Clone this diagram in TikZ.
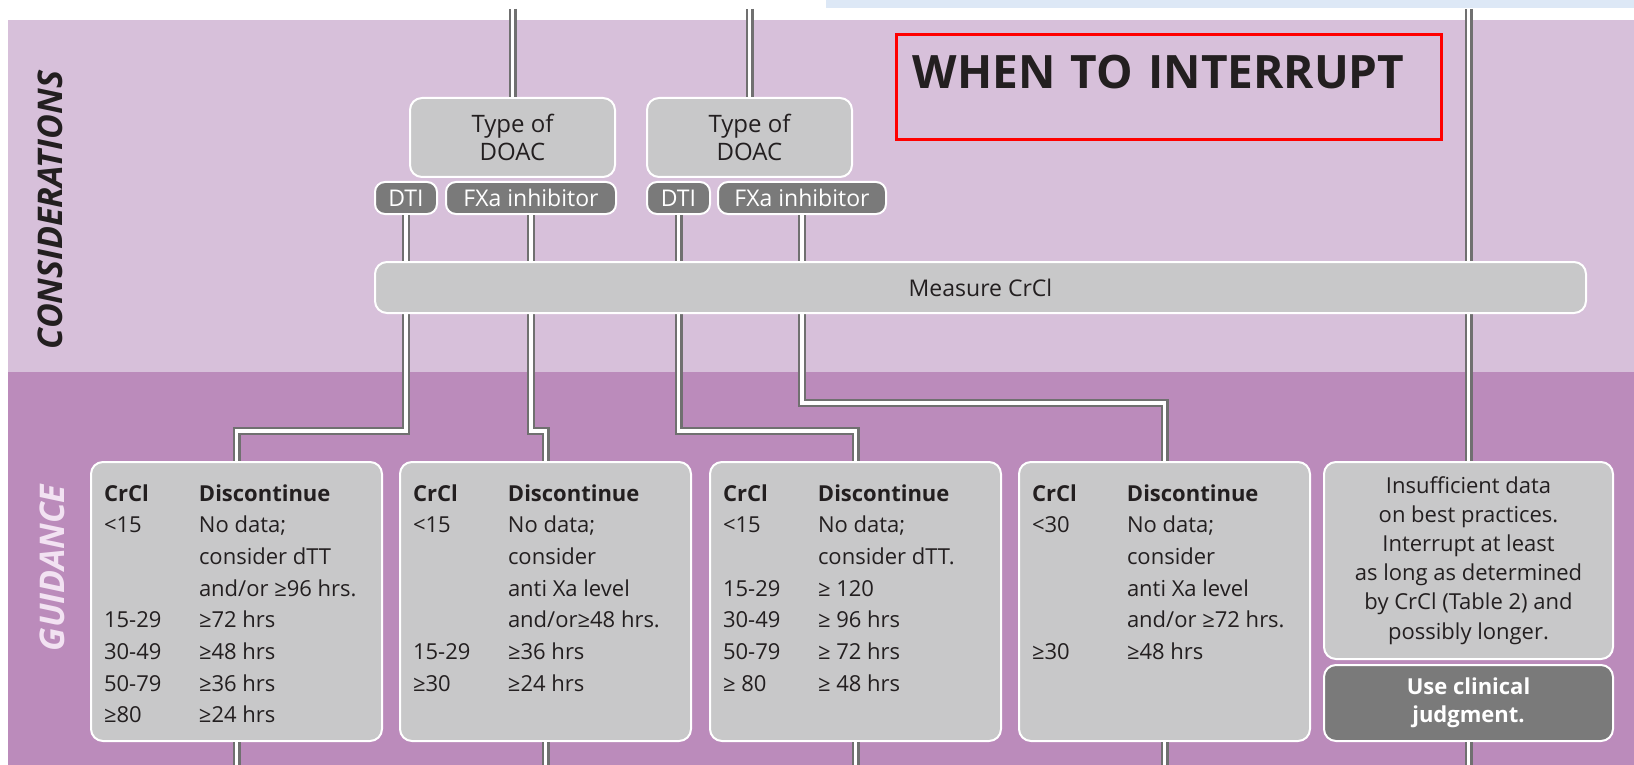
\documentclass[tikz,border=0pt]{standalone}
\usepackage{fontspec}
\setmainfont{Open Sans}
\usepackage{tikz}
\usetikzlibrary{positioning}

\definecolor{consbg}{RGB}{215,192,218}
\definecolor{guidbg}{RGB}{187,139,187}
\definecolor{bluestrip}{RGB}{221,232,246}
\definecolor{boxgrey}{RGB}{200,200,201}
\definecolor{pillgrey}{RGB}{122,122,122}
\definecolor{pipegrey}{RGB}{112,112,112}
\definecolor{textdark}{RGB}{35,31,32}
\definecolor{guidtext}{RGB}{242,226,242}

\newcommand{\crow}[2]{\makebox[47.5pt][l]{#1}#2\par}
\newcommand{\chead}{\crow{\rule{0pt}{19.5pt}\textbf{CrCl}}{\textbf{Discontinue}}}
\newcommand{\gtab}[1]{\parbox[t][139.5pt][t]{145.5pt}{\leftskip=6.5pt\chead #1}}

\begin{document}
\begin{tikzpicture}[x=0.5pt,y=-0.5pt]

    \tikzstyle{pipe} = [draw=pipegrey, double=white, double distance=1.9pt, line width=1.05pt]
    \tikzstyle{typebox} = [rectangle, rounded corners=6pt, minimum width=102.5pt, minimum height=39.5pt, align=center, draw=white, line width=1pt, fill=boxgrey, text=textdark, font=\fontsize{12}{14}\selectfont]
    \tikzstyle{pill} = [rectangle, rounded corners=5pt, minimum height=16pt, inner sep=0pt, draw=white, line width=1pt, fill=pillgrey, text=white, font=\fontsize{11.5}{13}\selectfont]
    \tikzstyle{measure} = [rectangle, rounded corners=6pt, minimum width=605.5pt, minimum height=25.5pt, draw=white, line width=1pt, fill=boxgrey, text=textdark, font=\fontsize{11.5}{13}\selectfont]
    \tikzstyle{gbox} = [rectangle, rounded corners=6pt, inner sep=0pt, draw=white, line width=1pt, fill=boxgrey, text=textdark, font=\fontsize{11}{15.85}\selectfont]
    \tikzstyle{band} = [rotate=90, font=\fontsize{17}{19}\selectfont\bfseries\itshape]
    \tikzstyle{titlebox} = [draw=red, line width=1.6pt, anchor=north west, inner xsep=8pt, inner ysep=0pt, text width=256.5pt, text height=27pt, text depth=25.5pt, align=left, text=textdark, font=\fontsize{23}{26}\selectfont\bfseries]

    \fill[white] (0,0) rectangle (1634,765);
    \fill[bluestrip] (826,0) rectangle (1634,8);
    \fill[consbg] (8,20) rectangle (1634,372);
    \fill[guidbg] (8,372) rectangle (1634,765);
    \useasboundingbox (0,0) rectangle (1634,765);

    \coordinate (topedge) at (0,9);
    \coordinate (botedge) at (0,765);
    \coordinate (jogA) at (0,431);
    \coordinate (jogB) at (0,403);

    \node (cons)[band, text=textdark] at (50,210) {CONSIDERATIONS};
    \node (guid)[band, text=guidtext] at (52,568) {GUIDANCE};
    \node (title)[titlebox] at (895,33) {WHEN TO INTERRUPT};

    \node (type1)[typebox] at (512.5,137.5) {Type of\\DOAC};
    \node (type2)[typebox] at (749.5,137.5) {Type of\\DOAC};
    \node (dti1)[pill, minimum width=31pt, below=1.5pt of type1.south west, anchor=north west, xshift=-17.5pt] {DTI};
    \node (fxa1)[pill, minimum width=85pt, right=3.5pt of dti1] {FXa inhibitor};
    \node (dti2)[pill, minimum width=31.5pt, below=1.5pt of type2.south west, anchor=north west] {DTI};
    \node (fxa2)[pill, minimum width=84pt, right=3pt of dti2] {FXa inhibitor};

    \node (g1)[gbox, anchor=north west] at (90,461) {\gtab{%
        \crow{<15}{No data;}\crow{}{consider dTT}\crow{}{and/or ≥96 hrs.}%
        \crow{15-29}{≥72 hrs}\crow{30-49}{≥48 hrs}\crow{50-79}{≥36 hrs}\crow{≥80}{≥24 hrs}}};
    \node (g2)[gbox, right=8pt of g1.north east, anchor=north west] {\gtab{%
        \crow{<15}{No data;}\crow{}{consider}\crow{}{anti Xa level}\crow{}{and/or≥48 hrs.}%
        \crow{15-29}{≥36 hrs}\crow{≥30}{≥24 hrs}}};
    \node (g3)[gbox, right=8.5pt of g2.north east, anchor=north west] {\gtab{%
        \crow{<15}{No data;}\crow{}{consider dTT.}%
        \crow{15-29}{≥ 120}\crow{30-49}{≥ 96 hrs}\crow{50-79}{≥ 72 hrs}\crow{≥ 80}{≥ 48 hrs}}};
    \node (g4)[gbox, right=8pt of g3.north east, anchor=north west] {\gtab{%
        \crow{<30}{No data;}\crow{}{consider}\crow{}{anti Xa level}\crow{}{and/or ≥72 hrs.}%
        \crow{≥30}{≥48 hrs}}};
    \node (g5)[gbox, right=6pt of g4.north east, anchor=north west, font=\fontsize{11}{14.6}\selectfont] {\parbox[t][98.5pt][t]{144.5pt}{\centering
        \rule{0pt}{15.5pt}Insufficient data\\on best practices.\\Interrupt at least\\as long as determined\\by CrCl (Table 2) and\\possibly longer.}};
    \node (judge)[gbox, below=2pt of g5, minimum width=144.5pt, minimum height=38pt, align=center, fill=pillgrey, text=white, font=\fontsize{11}{14}\selectfont\bfseries] {Use clinical\\judgment.};

    \draw [pipe] (type1.north |- topedge) -- (type1.north);
    \draw [pipe] (type2.north |- topedge) -- (type2.north);
    \draw [pipe] (g5.north |- topedge) -- (g5.north);
    \draw [pipe] (dti1.south) -- (dti1.south |- jogA) -| (g1.north);
    \draw [pipe] (fxa1.south) -- (fxa1.south |- jogA) -| (g2.north);
    \draw [pipe] (dti2.south) -- (dti2.south |- jogA) -| (g3.north);
    \draw [pipe] (fxa2.south) -- (fxa2.south |- jogB) -| (g4.north);
    \draw [pipe] (g1.south) -- (g1.south |- botedge);
    \draw [pipe] (g2.south) -- (g2.south |- botedge);
    \draw [pipe] (g3.south) -- (g3.south |- botedge);
    \draw [pipe] (g4.south) -- (g4.south |- botedge);
    \draw [pipe] (judge.south) -- (judge.south |- botedge);

    \node (crcl)[measure] at (980.5,287.5) {Measure CrCl};
\end{tikzpicture}
\end{document}
